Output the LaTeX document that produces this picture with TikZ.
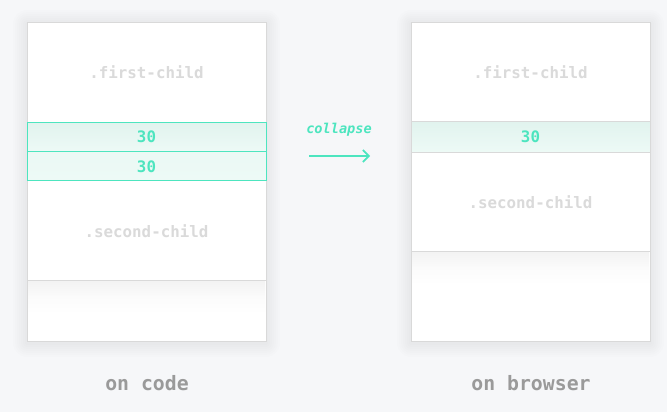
\documentclass[tikz,border=0pt]{standalone}
\usepackage{fontspec}
\setmonofont{DejaVu Sans Mono}
\usetikzlibrary{arrows.meta}
\definecolor{bg}{HTML}{F6F7F9}
\definecolor{mint}{HTML}{4DE5BF}
\definecolor{childtxt}{HTML}{DADADA}
\definecolor{captxt}{HTML}{9A9A9A}
\definecolor{edge}{HTML}{D9D9D9}
\definecolor{mtop}{HTML}{E1F3EE}
\definecolor{mbot}{HTML}{EDFAF6}
\tikzset{
  outerbox/.style={draw=edge, line width=0.8pt, fill=white, inner sep=0pt, anchor=north west, minimum width=239pt, minimum height=319pt},
  marginbox/.style={inner sep=0pt, anchor=north west, minimum width=239pt, shade, top color=mtop, bottom color=mbot},
  childlabel/.style={font=\ttfamily\bfseries\fontsize{15.8}{18}\selectfont, text=childtxt},
  numlabel/.style={font=\ttfamily\bfseries\fontsize{15.8}{18}\selectfont, text=mint},
  caption/.style={font=\ttfamily\bfseries\fontsize{19.8}{22}\selectfont, text=captxt},
  actlabel/.style={font=\ttfamily\bfseries\itshape\fontsize{13.6}{16}\selectfont, text=mint},
  shadowline/.style={draw=black, opacity=0.006, line width=#1, line join=round},
  sep/.style={draw=edge, line width=0.8pt},
  fallshade/.style={shade, top color=black!5, bottom color=white, middle color=black!1.5},
}
\begin{document}
\begin{tikzpicture}[x=1pt, y=-1pt]
  \fill[bg] (0,0) rectangle (667,412);
  \useasboundingbox (0,0) rectangle (667,412);
  % soft outer shadows
  \foreach \w in {4,8,12,16,20,24,28}{
    \draw[shadowline=\w pt] (27,24) rectangle (266,343);
    \draw[shadowline=\w pt] (411,24) rectangle (650,343);
  }
  % left: on code
  \node[outerbox] (lbox) at (27,22) {};
  \fill[fallshade] (28,280.5) rectangle (265,314);
  \draw[sep] (27,280) -- (266,280);
  \node[marginbox, minimum height=29pt, draw=mint, line width=1pt] (lm1) at (27,122) {};
  \node[marginbox, minimum height=29pt, draw=mint, line width=1pt, top color=mbot!80!mtop] (lm2) at (27,151) {};
  \node[childlabel] (lfirst) at (146.5,72) {.first-child};
  \node[numlabel] (ln1) at (146.5,136.5) {30};
  \node[numlabel] (ln2) at (146.5,166.5) {30};
  \node[childlabel] (lsecond) at (146.5,231) {.second-child};
  \node[caption] (lcap) at (147,383) {on code};
  % right: on browser
  \node[outerbox] (rbox) at (411,22) {};
  \fill[fallshade] (412,251.5) rectangle (649,285);
  \draw[sep] (411,251) -- (650,251);
  \node[marginbox, minimum height=31pt] (rm) at (411,121) {};
  \draw[sep] (rm.north west) -- (rm.north east);
  \draw[sep] (rm.south west) -- (rm.south east);
  \draw[edge, line width=0.8pt] (rbox.north west) rectangle (rbox.south east);
  \node[childlabel] (rfirst) at (530.5,72) {.first-child};
  \node[numlabel] (rn) at (530.5,137) {30};
  \node[childlabel] (rsecond) at (530.5,202) {.second-child};
  \node[caption] (rcap) at (531,383) {on browser};
  % collapse arrow
  \node[actlabel] (act) at (339,130) {collapse};
  \coordinate (as) at (309,156);
  \coordinate (ae) at (370,156);
  \draw[mint, line width=1.6pt, -{Straight Barb[length=6pt, width=12pt, line width=1.6pt]}] (as) -- (ae);
\end{tikzpicture}
\end{document}
